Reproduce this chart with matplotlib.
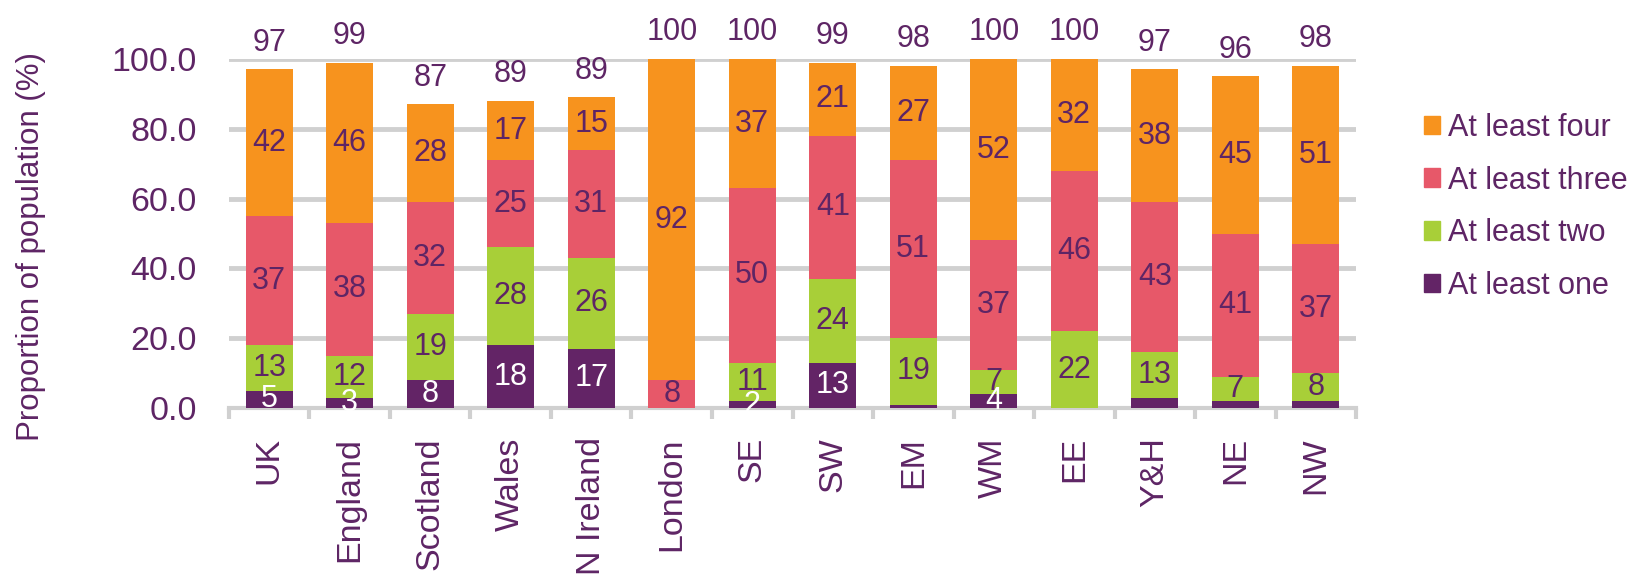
import numpy as np
import matplotlib

matplotlib.use("Agg")
import matplotlib.pyplot as plt
from matplotlib.patches import Patch

plt.rcParams["font.family"] = ["Liberation Sans", "DejaVu Sans"]

categories = ["UK", "England", "Scotland", "Wales", "N Ireland", "London", "SE",
              "SW", "EM", "WM", "EE", "Y&H", "NE", "NW"]
at_least_one = [5, 3, 8, 18, 17, 0, 2, 13, 1, 4, 0, 3, 2, 2]
at_least_two = [13, 12, 19, 28, 26, 0, 11, 24, 19, 7, 22, 13, 7, 8]
at_least_three = [37, 38, 32, 25, 31, 8, 50, 41, 51, 37, 46, 43, 41, 37]
at_least_four = [42, 46, 28, 17, 15, 92, 37, 21, 27, 52, 32, 38, 45, 51]
totals = [97, 99, 87, 89, 89, 100, 100, 99, 98, 100, 100, 97, 96, 98]
# labels shown on the "at least one" segment (some are hidden in the original)
one_labels = ["5", "3", "8", "18", "17", None, "2", "13", None, "4", None, None, None, None]

series = [
    ("At least one", at_least_one, "#632466", "white"),
    ("At least two", at_least_two, "#A8CF38", "#5E2565"),
    ("At least three", at_least_three, "#E75869", "#5E2565"),
    ("At least four", at_least_four, "#F7931E", "#5E2565"),
]
TEXT = "#5E2565"
GRID = "#D0D0D0"
FS = 22
AX_FS = 24.5

fig = plt.figure(figsize=(16.31, 5.77), dpi=100)
ax = fig.add_axes([0.1404, 0.2929, 0.691, 0.6048])

x = np.arange(len(categories))
bottom = np.zeros(len(categories))
for name, vals, color, tcolor in series:
    vals = np.array(vals, dtype=float)
    ax.bar(x, vals, 0.58, bottom=bottom, color=color, label=name, zorder=3)
    for i, v in enumerate(vals):
        if name == "At least one":
            lab = one_labels[i]
        else:
            lab = str(int(v)) if v > 0 else None
        if lab:
            ax.text(x[i], bottom[i] + v / 2, lab, ha="center", va="center",
                    color=tcolor, fontsize=FS, zorder=4)
    bottom += vals

# totals sit just above each bar
for i, t in enumerate(totals):
    ax.annotate(str(t), (x[i], bottom[i]), xytext=(0, 13.5), textcoords="offset points",
                ha="center", va="baseline", color=TEXT, fontsize=FS,
                annotation_clip=False)

ax.set_xlim(-0.5, len(categories) - 0.5)
ax.set_ylim(0, 100)
ax.set_yticks(np.arange(0, 101, 20))
ax.set_yticklabels([f"{v:.1f}" for v in np.arange(0, 101, 20)])
ax.yaxis.grid(True, color=GRID, linewidth=3.5, zorder=0)
ax.set_axisbelow(True)
ax.tick_params(axis="y", length=0, pad=23, labelsize=AX_FS, labelcolor=TEXT)

ax.set_xticks(x)
ax.set_xticklabels(categories, rotation=90, fontsize=AX_FS, color=TEXT)
ax.set_xticks(np.arange(-0.5, len(categories), 1), minor=True)
ax.tick_params(axis="x", which="major", length=0, pad=21)
ax.tick_params(axis="x", which="minor", length=8, width=3, color=GRID)

for side in ("top", "right", "left"):
    ax.spines[side].set_visible(False)
ax.spines["bottom"].set_color(GRID)
ax.spines["bottom"].set_linewidth(3)

ax.set_ylabel("Proportion of population (%)", fontsize=FS + 0.5, color=TEXT)
ax.yaxis.set_label_coords(-0.162, 0.464)

handles = [Patch(color=c, label=n) for n, _, c, _ in reversed(series)]
fig.legend(handles=handles, loc="upper left", bbox_to_anchor=(0.856, 0.852),
           frameon=False, fontsize=FS, labelcolor=TEXT, handlelength=0.55,
           handleheight=0.55, handletextpad=0.25, labelspacing=0.74)

fig.savefig("out.png", dpi=100)
